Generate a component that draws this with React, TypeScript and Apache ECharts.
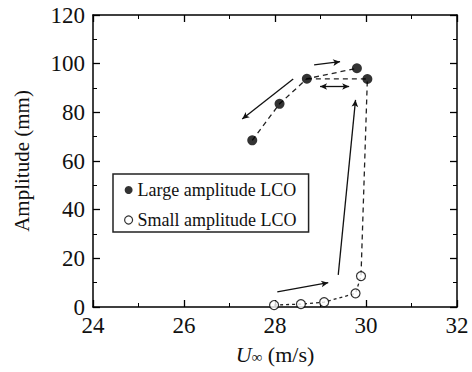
import React, { useEffect, useRef } from "react";
import * as echarts from "echarts";

// ---- data ----
const largeU = [27.5, 28.1, 28.7, 29.8, 30.03];
const largeA = [68.5, 83.5, 93.8, 98.1, 93.7];
const smallU = [27.98, 28.57, 29.08, 29.77, 29.89];
const smallA = [0.8, 1.2, 2.0, 5.6, 12.7];

// dashed connections (indices into the arrays above)
const largePathA = [0, 1, 2, 3];
const largePathB = [2, 4];

// annotation arrows: [u, amplitude]
const arrowFrom = [
  [28.4, 93.7],
  [28.86, 99.5],
  [28.05, 6.2],
  [29.39, 13.2],
];
const arrowTo = [
  [27.28, 77.3],
  [29.43, 100.8],
  [29.17, 10.0],
  [29.77, 85.1],
];
const doubleArrow = [
  [28.99, 90.6],
  [29.63, 90.6],
];

const xTicks = { min: 24, max: 32, interval: 2 };
const yTicks = { min: 0, max: 120, interval: 20 };

const FONT = '"Liberation Serif", "Times New Roman", serif';

const axisBase = (showLabel: boolean) => ({
  type: "value" as const,
  axisLine: { show: true, onZero: false, lineStyle: { color: "#000", width: 1.5 } },
  axisTick: { show: true, inside: true, length: 7, lineStyle: { color: "#000", width: 1.3 } },
  minorTick: { show: true, splitNumber: 2, length: 4, lineStyle: { color: "#000", width: 1 } },
  splitLine: { show: false },
  axisLabel: {
    show: showLabel,
    color: "#111",
    fontFamily: FONT,
    fontSize: 23,
  },
});

export default function App() {
  const ref = useRef<HTMLDivElement>(null);
  useEffect(() => {
    const chart = echarts.init(ref.current!, null, { renderer: "svg" });
    const largeLine1 = largePathA.map((i) => [largeU[i], largeA[i]]);
    const largeLine2 = [
      ...largePathB.map((i) => [largeU[i], largeA[i]]),
      [smallU[4], smallA[4]],
    ];
    const smallLine = smallU.map((u, i) => [u, smallA[i]]);
    const option = {
      animation: false,
      backgroundColor: "#fff",
      grid: { left: 93, right: 15, top: 15, bottom: 65 },
      legend: {
        orient: "vertical",
        left: 113,
        top: 174,
        borderColor: "#222",
        borderWidth: 1.5,
        borderRadius: 0,
        padding: [6, 12, 2, 11],
        itemGap: 10,
        itemWidth: 8,
        itemHeight: 8,
        textStyle: { color: "#111", fontFamily: FONT, fontSize: 18, lineHeight: 20 },
        data: [
          { name: "Large amplitude LCO", icon: "circle", itemStyle: { color: "#000" } },
          {
            name: "Small amplitude LCO",
            icon: "circle",
            itemStyle: { color: "#fff", borderColor: "#000", borderWidth: 1.2 },
          },
        ],
      },
      xAxis: [
        {
          ...axisBase(true),
          ...xTicks,
          position: "bottom",
          axisLabel: { ...axisBase(true).axisLabel, margin: 7 },
          name: "{i|U}{s|∞} (m/s)",
          nameLocation: "middle",
          nameGap: 36,
          nameTextStyle: {
            color: "#111",
            fontFamily: FONT,
            fontSize: 22,
            rich: {
              i: { fontFamily: FONT, fontSize: 22, fontStyle: "italic", color: "#111" },
              s: { fontFamily: FONT, fontSize: 15, color: "#111", padding: [6, 0, 0, 0] },
            },
          },
        },
        { ...axisBase(false), ...xTicks, position: "top" },
      ],
      yAxis: [
        {
          ...axisBase(true),
          ...yTicks,
          position: "left",
          axisLabel: { ...axisBase(true).axisLabel, margin: 8 },
          name: "Amplitude (mm)",
          nameLocation: "middle",
          nameRotate: 90,
          nameGap: 61,
          nameTextStyle: { color: "#111", fontFamily: FONT, fontSize: 21 },
        },
        { ...axisBase(false), ...yTicks, position: "right" },
      ],
      series: [
        {
          type: "line",
          name: "largePath1",
          data: largeLine1,
          symbol: "none",
          silent: true,
          z: 1,
          lineStyle: { color: "#222", width: 1.3, type: [5, 4] },
          markLine: {
            silent: true,
            symbol: ["arrow", "arrow"],
            symbolSize: [5, 7],
            label: { show: false },
            lineStyle: { color: "#111", width: 1.3, type: "solid" },
            data: [[{ coord: doubleArrow[0] }, { coord: doubleArrow[1] }]],
          },
        },
        {
          type: "line",
          name: "largePath2",
          data: largeLine2,
          symbol: "none",
          silent: true,
          z: 1,
          lineStyle: { color: "#222", width: 1.3, type: [5, 4] },
        },
        {
          type: "line",
          name: "smallPath",
          data: smallLine,
          symbol: "none",
          silent: true,
          z: 1,
          lineStyle: { color: "#222", width: 1.3, type: [3, 3] },
          markLine: {
            silent: true,
            symbol: ["none", "arrow"],
            symbolSize: [5, 7],
            label: { show: false },
            lineStyle: { color: "#111", width: 1.3, type: "solid" },
            data: arrowFrom.map((f, i) => [{ coord: f }, { coord: arrowTo[i] }]),
          },
        },
        {
          type: "scatter",
          name: "Large amplitude LCO",
          data: largeU.map((u, i) => [u, largeA[i]]),
          symbol: "circle",
          symbolSize: 10,
          z: 3,
          itemStyle: { color: "#000" },
        },
        {
          type: "scatter",
          name: "Small amplitude LCO",
          data: smallU.map((u, i) => [u, smallA[i]]),
          symbol: "circle",
          symbolSize: 9,
          z: 3,
          itemStyle: { color: "#fff", borderColor: "#000", borderWidth: 1.2 },
        },
      ],
    };
    chart.setOption(option as any);
    return () => chart.dispose();
  }, []);
  return (
    <div
      ref={ref}
      style={{ position: "absolute", left: 0, top: 0, width: 472, height: 372, background: "#fff" }}
    />
  );
}
